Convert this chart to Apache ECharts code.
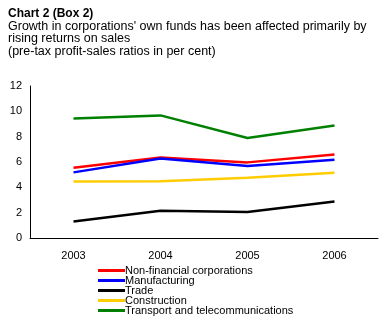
<!DOCTYPE html>
<html>
<head>
<meta charset="utf-8">
<script src="https://cdn.jsdelivr.net/npm/echarts@6/dist/echarts.min.js"></script>
<style>
  html, body { margin: 0; padding: 0; background: #fff; }
  #chart { width: 385px; height: 324px; }
</style>
</head>
<body>
<div id="chart"></div>
<script>
// Pre-tax profit-sales ratios, per cent
var years = ['2003', '2004', '2005', '2006'];
var nonFinancial = [5.55, 6.36, 5.97, 6.6];
var manufacturing = [5.18, 6.28, 5.68, 6.18];
var trade = [1.31, 2.15, 2.05, 2.89];
var construction = [4.47, 4.48, 4.76, 5.15];
var transport = [9.44, 9.68, 7.89, 8.89];
var yTicks = [0, 2, 4, 6, 8, 10, 12];

var font = 'Liberation Sans, Arial, sans-serif';

function line(name, data, color) {
  return {
    name: name,
    type: 'line',
    data: data,
    symbol: 'none',
    lineStyle: { color: color, width: 2.5 },
    itemStyle: { color: color },
    animation: false
  };
}

var chart = echarts.init(document.getElementById('chart'));
chart.setOption({
  backgroundColor: '#fff',
  textStyle: { fontFamily: font },
  title: [
    {
      text: 'Chart 2 (Box 2)',
      left: 3, top: 3,
      textStyle: { fontFamily: font, fontSize: 12, fontWeight: 'bold', color: '#000' }
    },
    {
      text: "Growth in corporations' own funds has been affected primarily by\nrising returns on sales\n(pre-tax profit-sales ratios in per cent)",
      left: 3, top: 15,
      textStyle: { fontFamily: font, fontSize: 12.5, fontWeight: 'normal', color: '#000', lineHeight: 12.5 }
    }
  ],
  grid: { left: 30, right: 7, top: 86, bottom: 86 },
  xAxis: {
    type: 'category',
    data: years,
    boundaryGap: true,
    axisLine: { lineStyle: { color: '#000', width: 1 } },
    axisTick: { show: false },
    axisLabel: { color: '#000', fontSize: 11, margin: 12, fontFamily: font }
  },
  yAxis: {
    type: 'value',
    min: yTicks[0],
    max: yTicks[yTicks.length - 1],
    interval: 2,
    axisLine: { show: true, lineStyle: { color: '#000', width: 1 } },
    axisTick: { show: false },
    splitLine: { show: false },
    axisLabel: { color: '#000', fontSize: 11, margin: 8, fontFamily: font }
  },
  legend: {
    orient: 'vertical',
    left: 98, top: 265,
    itemGap: -1,
    itemWidth: 27,
    itemHeight: 3,
    icon: 'rect',
    textStyle: { fontFamily: font, fontSize: 11, color: '#000', lineHeight: 10, padding: [0, 0, 0, -5] },
    padding: 0,
    data: ['Non-financial corporations', 'Manufacturing', 'Trade', 'Construction', 'Transport and telecommunications']
  },
  series: [
    line('Non-financial corporations', nonFinancial, '#ff0000'),
    line('Manufacturing', manufacturing, '#0000ff'),
    line('Trade', trade, '#000000'),
    line('Construction', construction, '#ffcc00'),
    line('Transport and telecommunications', transport, '#008000')
  ]
});
</script>
</body>
</html>
